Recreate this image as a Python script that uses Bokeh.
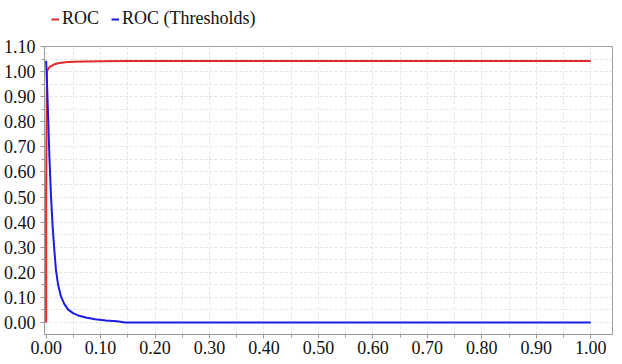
from bokeh.plotting import figure
from bokeh.layouts import column
from bokeh.models import Legend, LegendItem, FixedTicker, NumeralTickFormatter, Range1d
from bokeh.embed import file_html
from bokeh.resources import INLINE

# ROC curve (false positive rate, true positive rate, shifted as in reference)
roc_x = [0.0, 0.0, 0.0015, 0.004, 0.008, 0.014, 0.022, 0.035, 0.05, 0.07, 0.10, 0.15, 0.20, 0.40, 0.60, 0.80, 1.0]
roc_y = [0.0, 0.5, 1.000, 1.012, 1.021, 1.028, 1.033, 1.037, 1.039, 1.040, 1.041, 1.042, 1.042, 1.042, 1.042, 1.042, 1.042]

# ROC thresholds curve
thr_x = [0.0, 0.002, 0.004, 0.006, 0.009, 0.012, 0.015, 0.018, 0.022, 0.027, 0.033, 0.040, 0.050, 0.060, 0.075, 0.090, 0.110, 0.130, 0.145, 0.20, 0.40, 0.60, 0.80, 1.0]
thr_y = [1.043, 0.93, 0.80, 0.66, 0.50, 0.38, 0.29, 0.21, 0.15, 0.105, 0.075, 0.052, 0.036, 0.027, 0.019, 0.013, 0.008, 0.005, 0.0, 0.0, 0.0, 0.0, 0.0, 0.0]

series_names = ["ROC", "ROC (Thresholds)"]
series_colors = ["#e02a2a", "#1c1ce0"]

x_ticks = [0.0, 0.1, 0.2, 0.3, 0.4, 0.5, 0.6, 0.7, 0.8, 0.9, 1.0]
y_ticks = [0.0, 0.1, 0.2, 0.3, 0.4, 0.5, 0.6, 0.7, 0.8, 0.9, 1.0, 1.1]
x_minor = [0.05, 0.15, 0.25, 0.35, 0.45, 0.55, 0.65, 0.75, 0.85, 0.95]
y_minor = [-0.05, 0.05, 0.15, 0.25, 0.35, 0.45, 0.55, 0.65, 0.75, 0.85, 0.95, 1.05]

FONT = "Liberation Serif"
TOTAL_W = 614
LEGEND_H = 34

# ---- main chart ----
p = figure(width=TOTAL_W, height=356 - LEGEND_H, output_backend="svg", toolbar_location=None,
           x_range=Range1d(-0.003, 1.04), y_range=Range1d(-0.048, 1.10),
           min_border_left=40, min_border_right=2, min_border_top=12, min_border_bottom=0)

r1 = p.line(roc_x, roc_y, line_color=series_colors[0], line_width=2)
r2 = p.line(thr_x, thr_y, line_color=series_colors[1], line_width=2)

p.xaxis.ticker = FixedTicker(ticks=x_ticks, minor_ticks=x_minor)
p.yaxis.ticker = FixedTicker(ticks=y_ticks, minor_ticks=y_minor)
for ax in (p.xaxis, p.yaxis):
    ax.formatter = NumeralTickFormatter(format="0.00")
    ax.major_label_text_font = FONT
    ax.major_label_text_font_size = "18px"
    ax.major_label_text_color = "#111111"
    ax.axis_line_color = "#999999"
    ax.major_tick_line_color = "#999999"
    ax.minor_tick_line_color = "#999999"
    ax.major_tick_out = 4
    ax.major_tick_in = 0
    ax.minor_tick_out = 3
    ax.minor_tick_in = 0
p.xaxis.major_label_standoff = 2
p.yaxis.major_label_standoff = 5

for g in (p.xgrid, p.ygrid):
    g.grid_line_color = "#e4e4e4"
    g.grid_line_dash = "3 2"
    g.minor_grid_line_color = "#e4e4e4"
    g.minor_grid_line_dash = "3 2"

p.outline_line_color = "#a0a0a0"
p.background_fill_color = "white"
p.border_fill_color = "white"

# ---- legend strip above the chart (proxy lines kept outside its visible range) ----
lg = figure(width=TOTAL_W, height=LEGEND_H, output_backend="svg", toolbar_location=None,
            x_axis_type=None, y_axis_type=None,
            x_range=Range1d(10, 11), y_range=Range1d(10, 11),
            min_border_left=0, min_border_right=0, min_border_top=0, min_border_bottom=0)
lg.outline_line_color = None
lg.xgrid.visible = False
lg.ygrid.visible = False
k1 = lg.line(roc_x, roc_y, line_color=series_colors[0], line_width=2)
k2 = lg.line(thr_x, thr_y, line_color=series_colors[1], line_width=2)

legend = Legend(items=[LegendItem(label=series_names[0], renderers=[k1]),
                       LegendItem(label=series_names[1], renderers=[k2])],
                orientation="horizontal", location=(7, 5),
                glyph_width=8, glyph_height=18, label_height=18, label_standoff=3, spacing=12,
                label_text_font=FONT, label_text_font_size="18px",
                label_text_color="#111111", padding=0, margin=0,
                border_line_alpha=0, background_fill_alpha=0)
lg.add_layout(legend, "center")

layout = column(lg, p, spacing=0)
open("out.html", "w").write(file_html(layout, INLINE))
